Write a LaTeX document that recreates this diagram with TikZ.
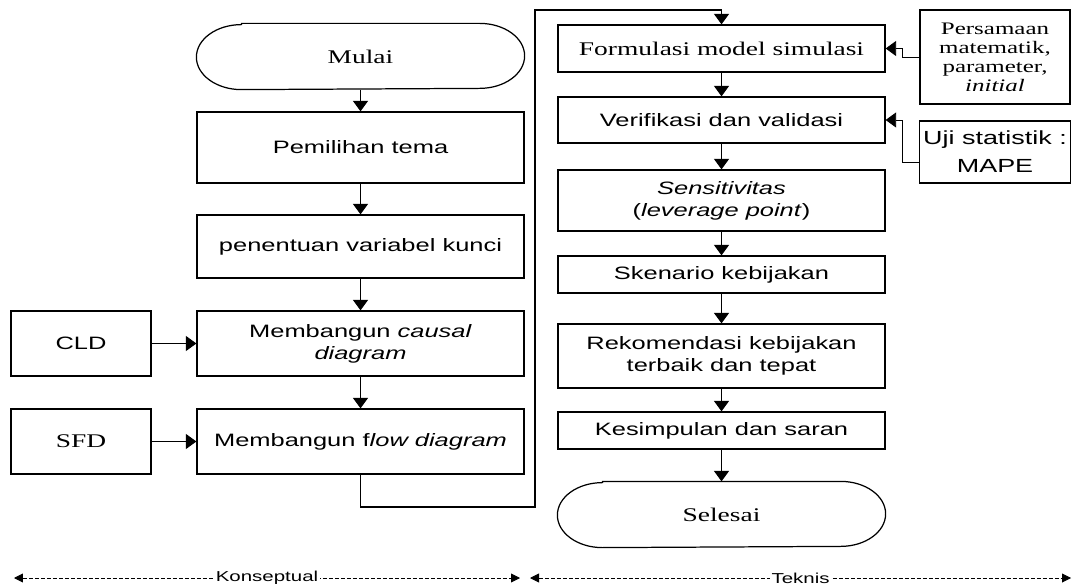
\documentclass[tikz,border=0pt]{standalone}
\usepackage{fontspec}
\setmainfont{Liberation Serif}[FakeStretch=1.42]
\setsansfont{Liberation Sans}[FakeStretch=1.42]
\usetikzlibrary{arrows.meta}

\tikzset{
  kotak/.style={draw, align=center, minimum width=6.54cm, inner sep=2pt,
    font=\sffamily\fontsize{10.2}{12.5}\selectfont},
  kotakserif/.style={kotak, font=\rmfamily\fontsize{11}{13}\selectfont},
  terminal/.style={kotakserif, draw=none, minimum height=1.3cm},
  garisbawah/.style={line width=0.5pt, dash pattern=on 0.08cm off 0.04cm,
    {Triangle[width=0.18cm,length=0.18cm]}-{Triangle[width=0.18cm,length=0.18cm]}},
  teksbawah/.style={fill=white, inner sep=1pt, font=\sffamily\fontsize{8.2}{10}\selectfont}
}

\begin{document}
\begin{tikzpicture}[>={Triangle[width=0.3cm,length=0.21cm]}, line width=0.7pt]
\useasboundingbox (0,0) rectangle (21.46,11.72);

\node[terminal] (mulai) at (7.21,10.59) {Mulai};
\draw ([xshift=0.9cm]mulai.north west) -- ([xshift=-0.9cm]mulai.north east) arc[start angle=90, end angle=-90, x radius=0.9cm, y radius=0.65cm] -- ([xshift=0.9cm]mulai.south west) arc[start angle=270, end angle=90, x radius=0.9cm, y radius=0.65cm] -- cycle;
\node[kotak, minimum height=1.42cm] (pemilihan) at (7.21,8.77) {Pemilihan tema};
\node[kotak, minimum height=1.26cm] (penentuan) at (7.21,6.79) {penentuan variabel kunci};
\node[kotak, minimum height=1.3cm] (causal) at (7.21,4.85) {Membangun \textit{causal}\\\textit{diagram}};
\node[kotak, minimum height=1.3cm] (flow) at (7.21,2.89) {Membangun f\textit{low diagram}};
\node[kotak, minimum width=2.8cm, minimum height=1.3cm] (cld) at (1.62,4.85) {CLD};
\node[kotakserif, minimum width=2.8cm, minimum height=1.3cm] (sfd) at (1.62,2.89) {SFD};

\draw [->](mulai) -- (pemilihan);
\draw [->](pemilihan) -- (penentuan);
\draw [->](penentuan) -- (causal);
\draw [->](causal) -- (flow);
\draw [->, line width=0.5pt](cld) -- (causal);
\draw [->, line width=0.5pt](sfd) -- (flow);

\node[kotakserif, minimum height=0.94cm] (formulasi) at (14.43,10.75) {Formulasi model simulasi};
\node[kotak, minimum height=0.92cm] (verifikasi) at (14.43,9.32) {Verifikasi dan validasi};
\node[kotak, minimum height=1.22cm] (sensitivitas) at (14.43,7.71) {\textit{Sensitivitas}\\(\textit{leverage point})};
\node[kotak, minimum height=0.74cm] (skenario) at (14.43,6.23) {Skenario kebijakan};
\node[kotak, minimum height=1.28cm] (rekomendasi) at (14.43,4.6) {Rekomendasi kebijakan\\terbaik dan tepat};
\node[kotak, minimum height=0.74cm] (kesimpulan) at (14.43,3.11) {Kesimpulan dan saran};
\node[terminal] (selesai) at (14.43,1.43) {Selesai};
\draw ([xshift=0.9cm]selesai.north west) -- ([xshift=-0.9cm]selesai.north east) arc[start angle=90, end angle=-90, x radius=0.9cm, y radius=0.65cm] -- ([xshift=0.9cm]selesai.south west) arc[start angle=270, end angle=90, x radius=0.9cm, y radius=0.65cm] -- cycle;

\coordinate (loopbawah) at (10.7,1.58);
\coordinate (loopatas) at (10.7,11.52);
\draw [->](flow.south) |- (loopbawah) -- (loopatas) -| (formulasi.north);

\draw [->](formulasi) -- (verifikasi);
\draw [->](verifikasi) -- (sensitivitas);
\draw [->](sensitivitas) -- (skenario);
\draw [->](skenario) -- (rekomendasi);
\draw [->](rekomendasi) -- (kesimpulan);
\draw [->](kesimpulan) -- (selesai);

\node[kotakserif, minimum width=3cm, minimum height=1.88cm, font=\rmfamily\fontsize{10}{10.8}\selectfont] (persamaan) at (19.9,10.58) {Persamaan\\matematik,\\parameter,\\\textit{initial}};
\node[kotak, minimum width=3cm, minimum height=1.24cm, font=\sffamily\fontsize{10.8}{16}\selectfont] (uji) at (19.9,8.68) {Uji statistik :\\MAPE};
\draw [->, line width=0.5pt](persamaan.west) -- ++(-0.34,0) |- (formulasi.east);
\draw [->, line width=0.5pt]([yshift=-0.2cm]uji.west) -- ++(-0.34,0) |- (verifikasi.east);

\coordinate (konkiri) at (0.28,0.16);
\coordinate (konkanan) at (10.4,0.16);
\coordinate (tekkiri) at (10.6,0.16);
\coordinate (tekkanan) at (21.42,0.16);
\draw [garisbawah](konkiri) -- node[teksbawah] (konseptual) {Konseptual} (konkanan);
\draw [garisbawah](tekkiri) -- node[teksbawah] (teknis) {Teknis} (tekkanan);
\end{tikzpicture}
\end{document}
